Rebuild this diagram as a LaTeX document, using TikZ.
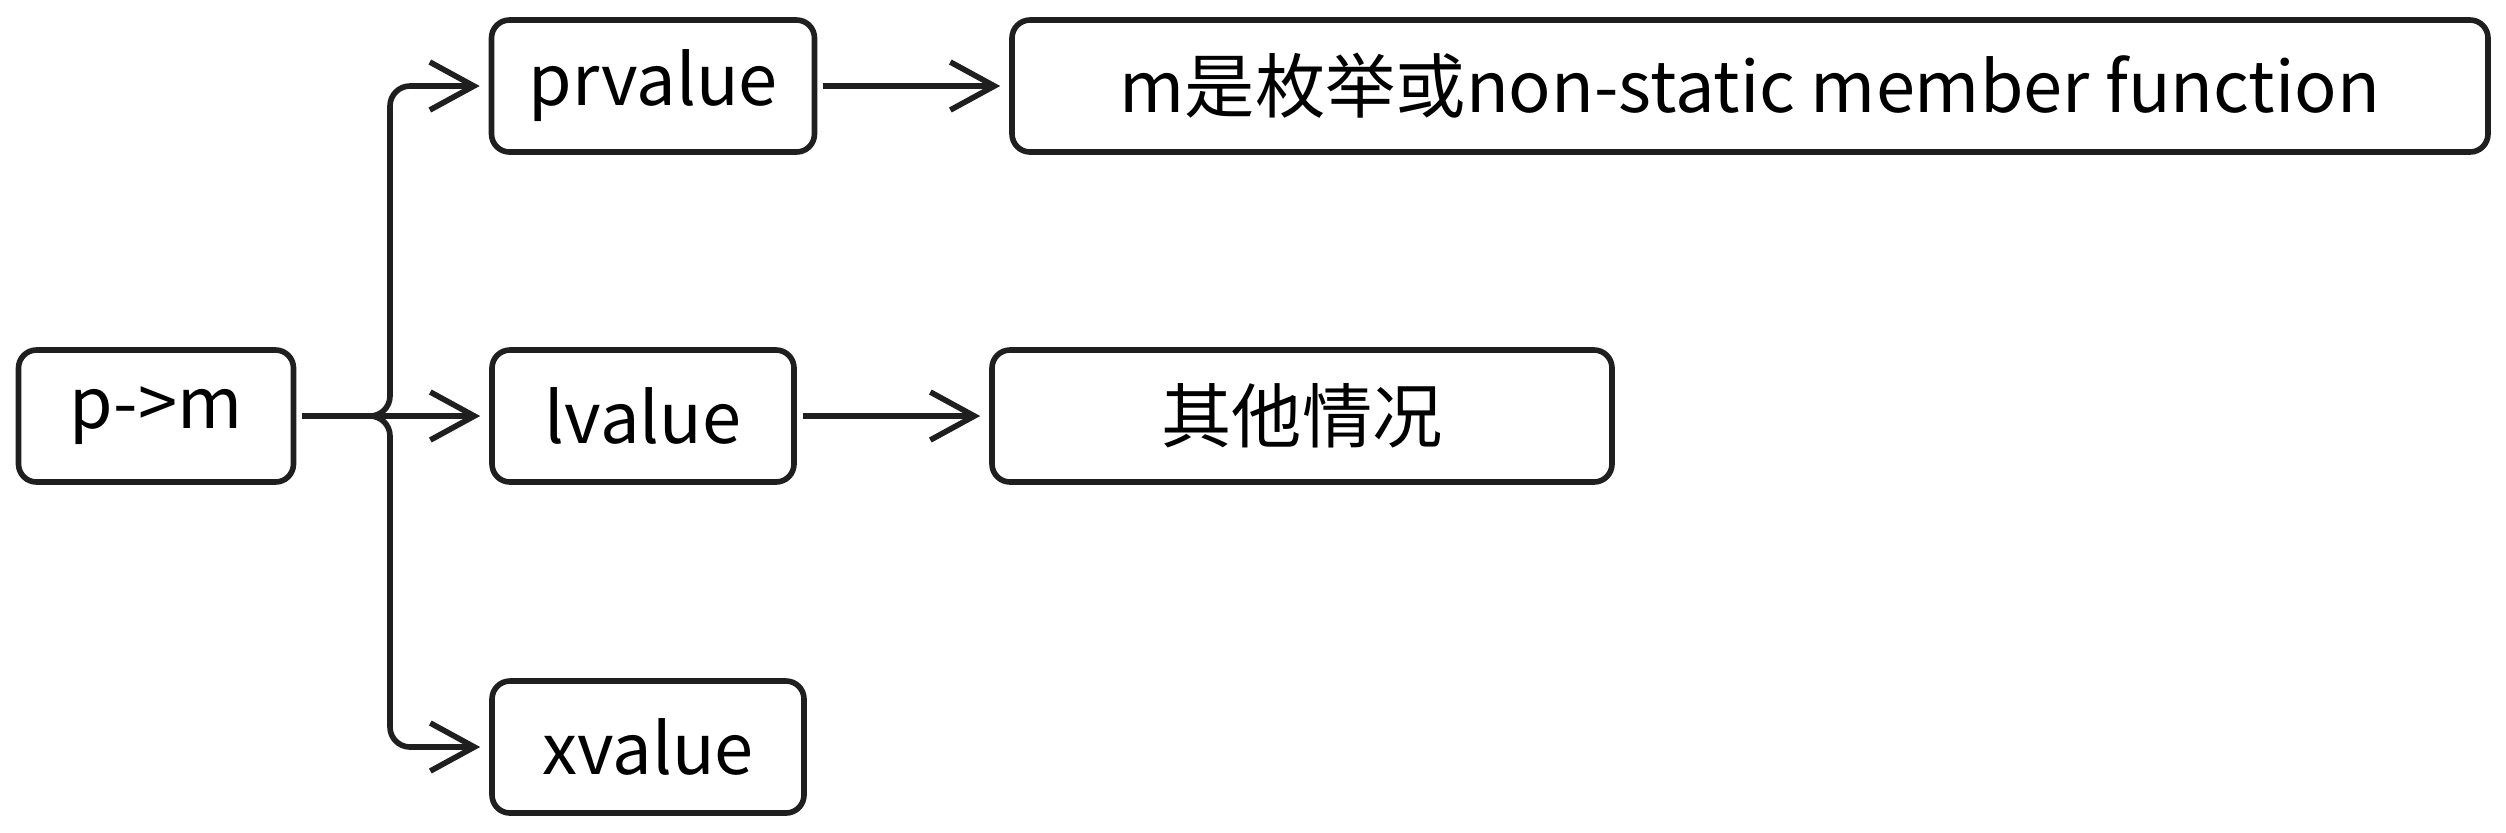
\documentclass[tikz,border=0pt]{standalone}
\usepackage{fontspec}
\setmainfont{Noto Sans CJK SC}
\usetikzlibrary{arrows.meta}

\begin{document}
\begin{tikzpicture}[x=0.1mm,y=-0.1mm,
    box/.style={draw=black!88, line width=1.6pt, rounded corners=1.8mm,
      minimum height=13.2mm, inner sep=0pt, font=\fontsize{20}{24}\selectfont},
    conn/.style={draw=black!88, line width=1.6pt, rounded corners=2mm,
      -{Straight Barb[length=4.4mm,width=4.8mm,line width=1.6pt]},
      shorten <=0.6mm, shorten >=0.9mm}]
  \useasboundingbox (0,0) rectangle (2506,832);
  % boxes
  \node[box, minimum width=27.5mm] (pm) at (156,416) {p->m};
  \node[box, minimum width=32.3mm] (prv) at (653,86) {prvalue};
  \node[box, minimum width=30.2mm] (lv) at (643,416) {lvalue};
  \node[box, minimum width=31.2mm] (xv) at (648,747) {xvalue};
  \node[box, minimum width=147.6mm] (enm) at (1750,86) {m是枚举或non-static member function};
  \node[box, minimum width=62mm] (oth) at (1302,416) {其他情况};
  % connectors
  \coordinate (fork) at (390,416);
  \draw[conn] (pm.east) -- (fork) |- (prv.west);
  \draw[conn] (pm.east) -- (lv.west);
  \draw[conn] (pm.east) -- (fork) |- (xv.west);
  \draw[conn] (prv.east) -- (enm.west);
  \draw[conn] (lv.east) -- (oth.west);
\end{tikzpicture}
\end{document}
